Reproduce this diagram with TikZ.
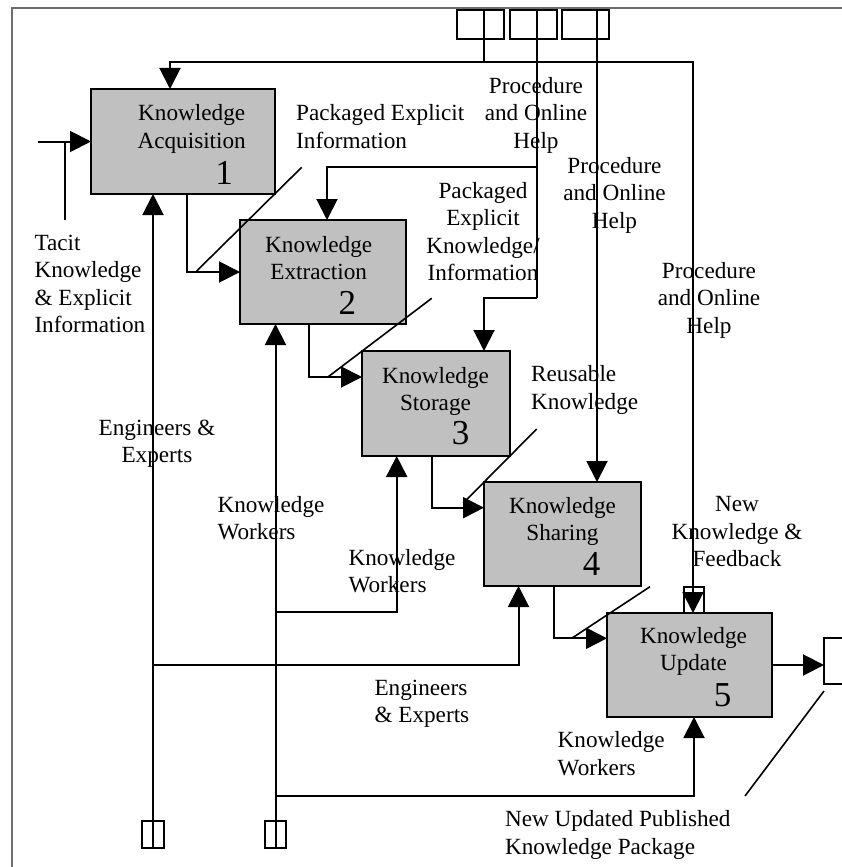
\documentclass[tikz,border=0pt]{standalone}
\usepackage{fontspec}
\setmainfont{Liberation Serif}
\usetikzlibrary{arrows.meta}
% multi-line labels whose baseline is that of the first line
\newcommand\cstack[1]{\begin{tabular}[t]{@{}c@{}}#1\end{tabular}}
\newcommand\lstack[1]{\begin{tabular}[t]{@{}l@{}}#1\end{tabular}}
\definecolor{boxgray}{RGB}{192,192,192}
\definecolor{framegray}{RGB}{110,110,110}
\begin{document}
\begin{tikzpicture}[x=1pt,y=-1pt,
  proc/.style={draw,line width=2pt,fill=boxgray,inner sep=0pt,outer sep=0pt},
  src/.style={draw,line width=2pt,inner sep=0pt,outer sep=0pt},
  wire/.style={line width=2pt},
  feed/.style={line width=2pt,-{Triangle[length=21pt,width=21pt]}},
  leader/.style={line width=1.6pt},
  lbl/.style={inner sep=0pt,font=\fontsize{23.2}{27.5}\selectfont},
  num/.style={inner sep=0pt,anchor=base,font=\fontsize{35}{38}\selectfont},
]
\useasboundingbox (0,0) rectangle (842,867);
\clip (0,0) rectangle (842,867);

% outer frame
\draw[framegray,line width=1.2pt] (12,867) -- (12,8) -- (842,8);

% process boxes
\node[proc,minimum width=184pt,minimum height=105pt] (b1) at (183,141.5) {};
\node[proc,minimum width=166pt,minimum height=104pt] (b2) at (323,272) {};
\node[proc,minimum width=148pt,minimum height=105pt] (b3) at (436,403.5) {};
\node[proc,minimum width=157pt,minimum height=104pt] (b4) at (562.5,534) {};
\node[proc,minimum width=165pt,minimum height=104pt] (b5) at (689.5,665) {};

% box titles and numbers
\node[lbl,anchor=base] (b1t) at (191.7,120.7) {\cstack{Knowledge\\Acquisition}};
\node[num] (b1n) at (224,184) {1};
\node[lbl,anchor=base] (b2t) at (318.7,252.3) {\cstack{Knowledge\\Extraction}};
\node[num] (b2n) at (347.3,314.3) {2};
\node[lbl,anchor=base] (b3t) at (435.5,383.3) {\cstack{Knowledge\\Storage}};
\node[num] (b3n) at (460.5,444.8) {3};
\node[lbl,anchor=base] (b4t) at (562.5,513.3) {\cstack{Knowledge\\Sharing}};
\node[num] (b4n) at (591.7,575.5) {4};
\node[lbl,anchor=base] (b5t) at (693.5,643.3) {\cstack{Knowledge\\Update}};
\node[num] (b5n) at (722.5,706.7) {5};

% control sources (top), mechanism sources (bottom), feedback and output ports
\node[src,minimum width=47pt,minimum height=29pt] (sA) at (480.5,24.5) {};
\node[src,minimum width=47pt,minimum height=29pt] (sB) at (533,24.5) {};
\node[src,minimum width=47pt,minimum height=29pt] (sC) at (585.2,24.5) {};
\node[src,line width=1.5pt,minimum width=22pt,minimum height=27pt] (q1) at (153,834.5) {};
\node[src,line width=1.5pt,minimum width=21pt,minimum height=27pt] (q2) at (275.5,834.5) {};
\node[src,line width=1.5pt,minimum width=20pt,minimum height=26pt] (fb) at (694,600) {};
\node[src,minimum width=40pt,minimum height=46pt,anchor=west] (out) at (824,661) {};

% routing points
\coordinate (laneA) at (484,62);
\coordinate (inA1) at (170,62);
\coordinate (inA5) at (693,62);
\coordinate (laneB) at (537,167);
\coordinate (inB2) at (327,167);
\coordinate (laneB2) at (537,298);
\coordinate (inB3) at (484,298);
\coordinate (laneC) at (597,0);
\coordinate (k3) at (396.7,612.3);
\coordinate (k4) at (518.5,665);
\coordinate (k5) at (694,795.7);
\coordinate (tacitIn) at (38,141.5);
\coordinate (tacitTop) at (65,141.5);
\coordinate (tacitEnd) at (65,220);

% controls from the top
\draw[wire] (sA.north -| laneA) -- (laneA);
\draw[feed] (laneA) -- (inA1) -- (b1.north -| inA1);
\draw[feed] (laneA) -- (inA5) -- (b5.north -| inA5);
\draw[wire] (sB.north -| laneB) -- (laneB2);
\draw[feed] (laneB) -- (inB2) -- (b2.north -| inB2);
\draw[feed] (laneB2) -- (inB3) -- (b3.north -| inB3);
\draw[feed] (sC.north -| laneC) -- (b4.north -| laneC);

% main flow between the stages
\draw[feed] (tacitIn) -- (b1.west);
\draw[wire] (tacitTop) -- (tacitEnd);
\draw[feed] ([xshift=4pt]b1.south) |- (b2.west);
\draw[feed] ([xshift=-14pt]b2.south) |- ([yshift=26.5pt]b3.west);
\draw[feed] ([xshift=-4.3pt]b3.south) |- ([yshift=26.3pt]b4.west);
\draw[feed] ([xshift=-8.5pt]b4.south) |- ([yshift=26.7pt]b5.west);
\draw[feed] (b5.east) -- (b5.east -| out.west);

% mechanisms from the bottom
\draw[feed] (q1.south) -- (b1.south -| q1.south);
\draw[feed] (q2.south) -- (b2.south -| q2.south);
\draw[feed] (q1.south |- k4) -- (k4) -- (b4.south -| k4);
\draw[feed] (q2.south |- k3) -- (k3) -- (b3.south -| k3);
\draw[feed] (q2.south |- k5) -- (k5) -- (b5.south -| k5);

% label leaders
\coordinate (d1a) at (196.7,271);   \coordinate (d1b) at (301.7,167.3);
\coordinate (d2a) at (328.3,376.7); \coordinate (d2b) at (431.7,298.3);
\coordinate (d3a) at (536.7,429);   \coordinate (d3b) at (463.3,503);
\coordinate (d4a) at (571.7,638.3); \coordinate (d4b) at (650,586.7);
\coordinate (d5a) at (745,796);     \coordinate (d5b) at (824,691);
\draw[leader] (d1a) -- (d1b);
\draw[leader] (d2a) -- (d2b);
\draw[leader] (d3a) -- (d3b);
\draw[leader] (d4a) -- (d4b);
\draw[leader] (d5a) -- (d5b);

% labels
\node[lbl,anchor=base west] (lPEI) at (296,120.5) {\lstack{Packaged Explicit\\Information}};
\node[lbl,anchor=base] (lPH1) at (536,93.3) {\cstack{Procedure\\and Online\\Help}};
\node[lbl,anchor=base] (lPH2) at (614.5,173.3) {\cstack{Procedure\\and Online\\Help}};
\node[lbl,anchor=base] (lPH3) at (709,278.3) {\cstack{Procedure\\and Online\\Help}};
\node[lbl,anchor=base] (lPEK) at (483,198.3) {\cstack{Packaged\\Explicit\\Knowledge/\\Information}};
\node[lbl,anchor=base west] (lTac) at (34.3,250) {\lstack{Tacit\\Knowledge\\\& Explicit\\Information}};
\node[lbl,anchor=base west] (lReu) at (531,381.7) {\lstack{Reusable\\Knowledge}};
\node[lbl,anchor=base] (lNKF) at (737,511.7) {\cstack{New\\Knowledge \&\\Feedback}};
\node[lbl,anchor=base] (lEE1) at (157,435) {\cstack{Engineers \&\\Experts}};
\node[lbl,anchor=base west] (lKW1) at (217.3,512.3) {\lstack{Knowledge\\Workers}};
\node[lbl,anchor=base west] (lKW2) at (348.3,565) {\lstack{Knowledge\\Workers}};
\node[lbl,anchor=base west] (lEE2) at (374.3,695) {\lstack{Engineers\\\& Experts}};
\node[lbl,anchor=base west] (lKW3) at (557.5,747.7) {\lstack{Knowledge\\Workers}};
\node[lbl,anchor=base west] (lNUP) at (504.8,826.7) {\lstack{New Updated Published\\Knowledge Package}};
\end{tikzpicture}
\end{document}
